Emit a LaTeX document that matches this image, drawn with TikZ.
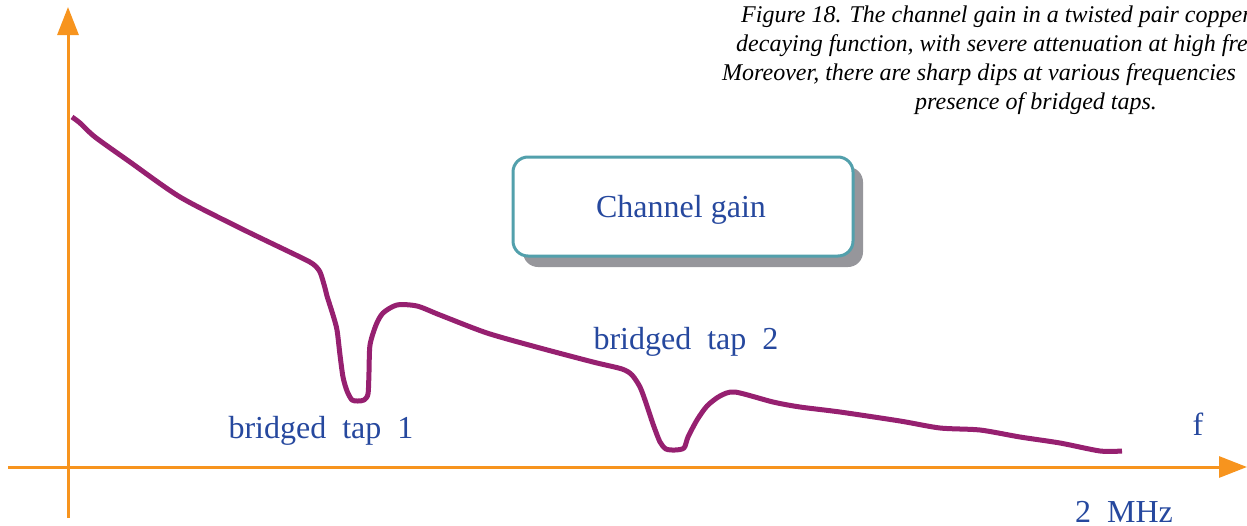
\documentclass[tikz,border=0pt]{standalone}
\usepackage{fontspec}
\setmainfont{Liberation Serif}
\usetikzlibrary{arrows.meta}
\definecolor{axisorange}{RGB}{247,148,30}
\definecolor{curvepurple}{RGB}{150,32,112}
\definecolor{labelblue}{RGB}{38,72,158}
\definecolor{boxteal}{RGB}{82,160,172}
\definecolor{shadowgrey}{RGB}{150,150,155}
\tikzset{
  axis/.style={draw=axisorange, line width=3pt, -{Triangle[width=21pt,length=28pt]}, color=axisorange},
  curve/.style={draw=curvepurple, line width=5pt, line join=round},
  lbl/.style={text=labelblue, font=\fontsize{32}{38}\selectfont, inner sep=0pt},
  captxt/.style={font=\fontsize{24}{28}\selectfont\itshape, inner sep=0pt, anchor=west},
  gainbox/.style={draw=boxteal, line width=3pt, fill=white, rounded corners=15pt, minimum width=340pt, minimum height=99pt},
}
\begin{document}
\begin{tikzpicture}[x=1pt,y=-1pt]
\useasboundingbox (0,0) rectangle (1247,525);
\clip (0,0) rectangle (1247,525);
% axes
\coordinate (ybot) at (68,518);
\coordinate (ytop) at (68,7);
\coordinate (xleft) at (8,467);
\coordinate (xright) at (1247,467);
\draw[axis] (ybot) -- (ytop);
\draw[axis] (xleft) -- (xright);
% caption
\node[captxt] (c1) at (741,17) {Figure 18. The channel gain in a twisted pair copper};
\node[captxt] (c2) at (736,46) {decaying function, with severe attenuation at high frequencies};
\node[captxt] (c3) at (722,75) {Moreover, there are sharp dips at various frequencies};
\node[captxt] (c4) at (915,104) {presence of bridged taps.};
% box
\fill[shadowgrey, rounded corners=15pt] (523,167) rectangle (863,267);
\node[gainbox] (box) at (683,206.5) {};
\node[lbl] (gain) at (681,210) {Channel gain};
% curve
\draw[curve] plot[smooth, tension=0.45] coordinates {
 (72,117) (80,123) (95,137) (130,162) (180,197) (240,228) (300,257) (313,264) (320,272)
 (325,288) (327,296) (333,315) (337,330) (340,355) (343,377) (347,391) (352,400) (358,401)
 (364,400) (368,394) (369,372) (370,345) (376,325) (383,313) (397,305) (417,306)
 (440,315) (487,333) (540,348) (593,362) (622,369) (632,375) (640,387) (646,403)
 (653,424) (660,442) (666,449) (675,450) (684,448) (688,437) (697,420) (707,406) (720,396)
 (735,392) (773,402) (800,407) (840,412) (900,421) (940,428) (980,430) (1020,437)
 (1060,443) (1100,451) (1122,451)};
% labels
\node[lbl] (t1) at (321,431) {bridged\ \ tap\ \ 1};
\node[lbl] (t2) at (686,342) {bridged\ \ tap\ \ 2};
\node[lbl] (f) at (1198,424) {f};
\node[lbl] (mhz) at (1124,512) {2\ \ MHz};
\end{tikzpicture}
\end{document}
